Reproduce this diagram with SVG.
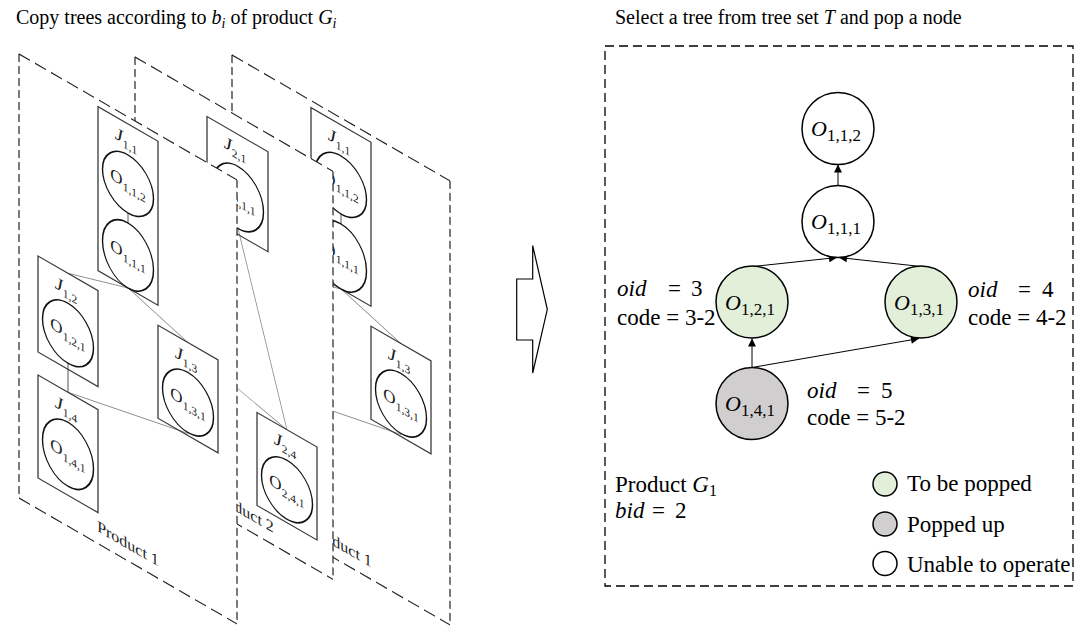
<svg xmlns="http://www.w3.org/2000/svg" width="1079" height="626" viewBox="0 0 1079 626">
<style>
.pf{fill:#fff;stroke:none}
.pv{stroke:#222;stroke-width:1.2;stroke-dasharray:8 4;fill:none}
.ph{stroke:#222;stroke-width:1.3;stroke-dasharray:11 5;fill:none}
.jb{fill:none;stroke:#3a3a3a;stroke-width:1.3}
.el{fill:#fff;stroke:#111;stroke-width:1.4}
.gl{stroke:#888;stroke-width:0.9}
.dl{stroke:#555;stroke-width:1}
.lt{font-family:"Liberation Serif",serif;font-size:17px;fill:#222}
.jt{font-family:"Liberation Serif",serif;font-size:18px;fill:#222}
.pl{font-family:"Liberation Serif",serif;font-size:16px;fill:#222}
.sub{font-size:11.5px}
.it{font-style:italic}
.tt{font-family:"Liberation Serif",serif;font-size:20px;fill:#000}
.rt{font-family:"Liberation Serif",serif;font-size:23px;fill:#000}
.ol{font-family:"Liberation Serif",serif;font-size:22px;fill:#000}
.cs{font-size:17px}
.nd{stroke:#000;stroke-width:1.5}
.w{fill:#fff}
.g{fill:#e2efd9}
.gr{fill:#d0cece}
.ar{stroke:#000;stroke-width:1;fill:none}
.box{fill:none;stroke:#000;stroke-width:1.3;stroke-dasharray:9 5}
</style>
<defs>
<marker id="ah" viewBox="0 0 10 10" refX="10" refY="5" markerWidth="10" markerHeight="8" markerUnits="userSpaceOnUse" orient="auto">
<path d="M0,0 L10,5 L0,10 z" fill="#000"/>
</marker>
</defs>

<g id="titles">
<text class="tt" x="16" y="24">Copy trees according to <tspan class="it">b</tspan><tspan class="it" font-size="14" dy="4">i</tspan><tspan dy="-4"> of product </tspan><tspan class="it">G</tspan><tspan class="it" font-size="14" dy="4">i</tspan></text>
<text class="tt" x="615" y="24">Select a tree from tree set <tspan class="it">T</tspan> and pop a node</text>
</g>

<!-- Page 3 (back copy of product 1) -->
<g id="page3" transform="translate(232,55) skewY(30)">
<rect class="pf" x="0" y="0" width="218" height="444"/>
<line class="pv" x1="0" y1="0" x2="0" y2="444"/>
<line class="pv" x1="218" y1="0" x2="218" y2="444"/>
<line class="ph" x1="0" y1="0" x2="218" y2="0"/>
<line class="ph" x1="0" y1="444" x2="218" y2="444"/>
<g id="p3-links">
<line class="dl" x1="109" y1="96" x2="109" y2="106"/>
<line class="gl" x1="109" y1="171" x2="49" y2="191"/>
<line class="gl" x1="109" y1="171" x2="169" y2="191"/>
<line class="dl" x1="49" y1="281" x2="49" y2="310"/>
<line class="gl" x1="49" y1="310" x2="169" y2="282"/>
</g>
<g id="p3-J11">
<rect class="jb" x="79" y="7" width="60" height="164"/>
<text class="jt" x="107" y="29" text-anchor="middle"><tspan class="it">J</tspan><tspan class="sub" dy="4">1,1</tspan></text>
<ellipse class="el" cx="109" cy="67" rx="25.5" ry="29"/>
<text class="lt" x="109" y="72" text-anchor="middle">O<tspan class="sub" dy="4">1,1,2</tspan></text>
<ellipse class="el" cx="109" cy="138.5" rx="25.5" ry="32.5"/>
<text class="lt" x="109" y="143" text-anchor="middle">O<tspan class="sub" dy="4">1,1,1</tspan></text>
</g>
<g id="p3-J12">
<rect class="jb" x="19" y="191" width="60" height="96"/>
<text class="jt" x="47" y="213" text-anchor="middle"><tspan class="it">J</tspan><tspan class="sub" dy="4">1,2</tspan></text>
<ellipse class="el" cx="49" cy="251" rx="25.5" ry="30"/>
<text class="lt" x="49" y="256" text-anchor="middle">O<tspan class="sub" dy="4">1,2,1</tspan></text>
</g>
<g id="p3-J13">
<rect class="jb" x="139" y="191" width="60" height="93"/>
<text class="jt" x="167" y="213" text-anchor="middle"><tspan class="it">J</tspan><tspan class="sub" dy="4">1,3</tspan></text>
<ellipse class="el" cx="169" cy="251" rx="25.5" ry="30"/>
<text class="lt" x="169" y="256" text-anchor="middle">O<tspan class="sub" dy="4">1,3,1</tspan></text>
</g>
<g id="p3-J14">
<rect class="jb" x="19" y="310" width="60" height="103"/>
<text class="jt" x="47" y="332" text-anchor="middle"><tspan class="it">J</tspan><tspan class="sub" dy="4">1,4</tspan></text>
<ellipse class="el" cx="49" cy="372" rx="25.5" ry="32"/>
<text class="lt" x="49" y="377" text-anchor="middle">O<tspan class="sub" dy="4">1,4,1</tspan></text>
</g>
<text class="pl" x="109" y="432" text-anchor="middle">Product 1</text>
</g>

<!-- Page 2 (middle, product 2) -->
<g id="page2" transform="translate(135,57) skewY(30)">
<rect class="pf" x="0" y="0" width="198" height="408"/>
<line class="pv" x1="0" y1="0" x2="0" y2="408"/>
<line class="pv" x1="198" y1="0" x2="198" y2="408"/>
<line class="ph" x1="0" y1="0" x2="198" y2="0"/>
<line class="ph" x1="0" y1="408" x2="198" y2="408"/>
<g id="p2-links">
<line class="gl" x1="103" y1="112" x2="152" y2="285"/>
<line class="gl" x1="0" y1="246" x2="152" y2="285"/>
</g>
<g id="p2-J21">
<rect class="jb" x="72" y="18" width="61" height="100"/>
<text class="jt" x="100" y="39" text-anchor="middle"><tspan class="it">J</tspan><tspan class="sub" dy="4">2,1</tspan></text>
<ellipse class="el" cx="103" cy="81" rx="25.5" ry="31"/>
<text class="lt" x="103" y="86" text-anchor="middle">O<tspan class="sub" dy="4">2,1,1</tspan></text>
</g>
<g id="p2-J24">
<rect class="jb" x="122" y="285" width="60" height="93"/>
<text class="jt" x="150" y="306" text-anchor="middle"><tspan class="it">J</tspan><tspan class="sub" dy="4">2,4</tspan></text>
<ellipse class="el" cx="152" cy="345" rx="25.5" ry="29.5"/>
<text class="lt" x="152" y="350" text-anchor="middle">O<tspan class="sub" dy="4">2,4,1</tspan></text>
</g>
<text class="pl" x="108" y="396" text-anchor="middle">Product 2</text>
</g>

<!-- Page 1 (front, product 1) -->
<g id="page1" transform="translate(19,54) skewY(30)">
<rect class="pf" x="0" y="0" width="218" height="444"/>
<line class="pv" x1="0" y1="0" x2="0" y2="444"/>
<line class="pv" x1="218" y1="0" x2="218" y2="444"/>
<line class="ph" x1="0" y1="0" x2="218" y2="0"/>
<line class="ph" x1="0" y1="444" x2="218" y2="444"/>
<g id="p1-links">
<line class="dl" x1="109" y1="96" x2="109" y2="106"/>
<line class="gl" x1="109" y1="171" x2="49" y2="191"/>
<line class="gl" x1="109" y1="171" x2="169" y2="191"/>
<line class="dl" x1="49" y1="281" x2="49" y2="310"/>
<line class="gl" x1="49" y1="310" x2="169" y2="282"/>
</g>
<g id="p1-J11">
<rect class="jb" x="79" y="7" width="60" height="164"/>
<text class="jt" x="107" y="29" text-anchor="middle"><tspan class="it">J</tspan><tspan class="sub" dy="4">1,1</tspan></text>
<ellipse class="el" cx="109" cy="67" rx="25.5" ry="29"/>
<text class="lt" x="109" y="72" text-anchor="middle">O<tspan class="sub" dy="4">1,1,2</tspan></text>
<ellipse class="el" cx="109" cy="138.5" rx="25.5" ry="32.5"/>
<text class="lt" x="109" y="143" text-anchor="middle">O<tspan class="sub" dy="4">1,1,1</tspan></text>
</g>
<g id="p1-J12">
<rect class="jb" x="19" y="191" width="60" height="96"/>
<text class="jt" x="47" y="213" text-anchor="middle"><tspan class="it">J</tspan><tspan class="sub" dy="4">1,2</tspan></text>
<ellipse class="el" cx="49" cy="251" rx="25.5" ry="30"/>
<text class="lt" x="49" y="256" text-anchor="middle">O<tspan class="sub" dy="4">1,2,1</tspan></text>
</g>
<g id="p1-J13">
<rect class="jb" x="139" y="191" width="60" height="93"/>
<text class="jt" x="167" y="213" text-anchor="middle"><tspan class="it">J</tspan><tspan class="sub" dy="4">1,3</tspan></text>
<ellipse class="el" cx="169" cy="251" rx="25.5" ry="30"/>
<text class="lt" x="169" y="256" text-anchor="middle">O<tspan class="sub" dy="4">1,3,1</tspan></text>
</g>
<g id="p1-J14">
<rect class="jb" x="19" y="310" width="60" height="103"/>
<text class="jt" x="47" y="332" text-anchor="middle"><tspan class="it">J</tspan><tspan class="sub" dy="4">1,4</tspan></text>
<ellipse class="el" cx="49" cy="372" rx="25.5" ry="32"/>
<text class="lt" x="49" y="377" text-anchor="middle">O<tspan class="sub" dy="4">1,4,1</tspan></text>
</g>
<text class="pl" x="109" y="432" text-anchor="middle">Product 1</text>
</g>

<!-- Hollow arrow -->
<g id="bigarrow">
<polygon points="516.7,279 532.7,279 532.7,245.6 547.3,309.3 532.7,373 532.7,340 516.7,340" fill="#fff" stroke="#000" stroke-width="1.2" stroke-linejoin="miter"/>
</g>

<!-- Right panel -->
<g id="panel">
<rect class="box" x="605" y="46" width="468" height="540"/>
</g>

<g id="connectors">
<line class="ar" x1="838" y1="185.5" x2="838" y2="164.5" marker-end="url(#ah)"/>
<line class="ar" x1="753" y1="266.5" x2="837" y2="257.5" marker-end="url(#ah)"/>
<line class="ar" x1="921" y1="266.5" x2="839" y2="257.5" marker-end="url(#ah)"/>
<line class="ar" x1="752" y1="367.5" x2="752" y2="338.5" marker-end="url(#ah)"/>
<line class="ar" x1="752" y1="367.5" x2="919" y2="338.5" marker-end="url(#ah)"/>
</g>

<g id="n-O112">
<circle class="nd w" cx="838" cy="128.5" r="36"/>
<text class="ol" x="836" y="136" text-anchor="middle"><tspan class="it">O</tspan><tspan class="cs" dy="5">1,1,2</tspan></text>
</g>
<g id="n-O111">
<circle class="nd w" cx="838" cy="221.5" r="36"/>
<text class="ol" x="836" y="229" text-anchor="middle"><tspan class="it">O</tspan><tspan class="cs" dy="5">1,1,1</tspan></text>
</g>
<g id="n-O121">
<circle class="nd g" cx="752" cy="302" r="36"/>
<text class="ol" x="750" y="310" text-anchor="middle"><tspan class="it">O</tspan><tspan class="cs" dy="5">1,2,1</tspan></text>
</g>
<g id="n-O131">
<circle class="nd g" cx="921" cy="302" r="36"/>
<text class="ol" x="919" y="310" text-anchor="middle"><tspan class="it">O</tspan><tspan class="cs" dy="5">1,3,1</tspan></text>
</g>
<g id="n-O141">
<circle class="nd gr" cx="752" cy="403.5" r="36"/>
<text class="ol" x="750" y="411" text-anchor="middle"><tspan class="it">O</tspan><tspan class="cs" dy="5">1,4,1</tspan></text>
</g>

<g id="annotations">
<text class="rt"><tspan class="it" x="617" y="296">oid</tspan><tspan x="668" y="296">=</tspan><tspan x="691" y="296">3</tspan></text>
<text class="rt" x="617" y="325">code = 3-2</text>
<text class="rt"><tspan class="it" x="968" y="297">oid</tspan><tspan x="1018" y="297">=</tspan><tspan x="1042" y="297">4</tspan></text>
<text class="rt" x="968" y="325">code = 4-2</text>
<text class="rt"><tspan class="it" x="807" y="398">oid</tspan><tspan x="857" y="398">=</tspan><tspan x="881" y="398">5</tspan></text>
<text class="rt" x="807" y="425">code = 5-2</text>
<text class="rt" x="615" y="492">Product <tspan class="it">G</tspan><tspan font-size="16" dy="4">1</tspan></text>
<text class="rt"><tspan class="it" x="615" y="518">bid</tspan><tspan x="652" y="518">=</tspan><tspan x="675" y="518">2</tspan></text>
</g>

<g id="legend">
<circle class="nd g" cx="885" cy="484" r="12"/>
<text class="rt" x="907" y="491">To be popped</text>
<circle class="nd gr" cx="885" cy="524" r="12"/>
<text class="rt" x="907" y="532">Popped up</text>
<circle class="nd w" cx="885" cy="563.5" r="12"/>
<text class="rt" x="907" y="572">Unable to operate</text>
</g>
</svg>
